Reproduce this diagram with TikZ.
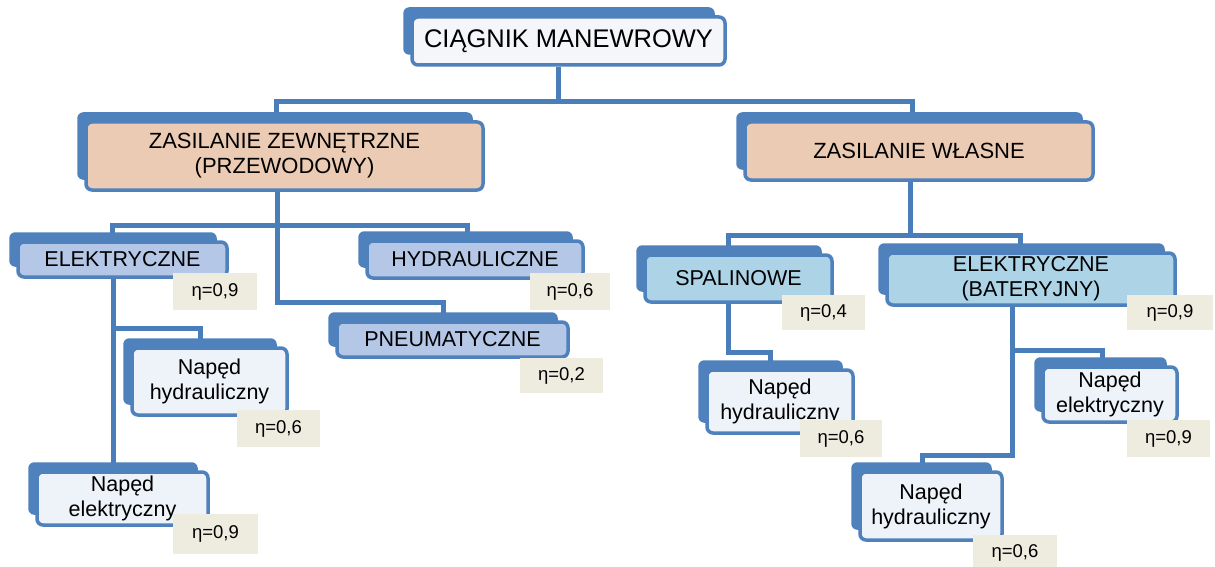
\documentclass[tikz,border=0pt]{standalone}
\usepackage{fontspec}
\setmainfont{Liberation Sans}
\usetikzlibrary{backgrounds}
\definecolor{bblue}{HTML}{4F81BD}
\definecolor{lblue}{HTML}{4A7EBB}
\definecolor{topfill}{HTML}{F4F6FA}
\definecolor{peach}{HTML}{EBCBB3}
\definecolor{lvlblue}{HTML}{B4C7E7}
\definecolor{cyanblue}{HTML}{ACD3E6}
\definecolor{napfill}{HTML}{EEF2F9}
\definecolor{etabg}{HTML}{EEEBDF}
\tikzset{
  box/.style={draw=bblue, line width=3.5pt, rounded corners=6pt, inner sep=0pt,
    align=center, font=\fontsize{21.5}{25}\selectfont},
  eta/.style={fill=etabg, inner sep=0pt, font=\fontsize{18.5}{20}\selectfont},
  conn/.style={draw=lblue, line width=5pt},
  backbox/.style={fill=bblue, rounded corners=6pt},
}
\begin{document}
\begin{tikzpicture}[x=1pt,y=-1pt]
\useasboundingbox (0,0) rectangle (1215,567);
% boxes
\node[box, fill=topfill, minimum width=313pt, minimum height=48pt, font=\fontsize{25.5}{28}\selectfont] (top) at (568.5,41) {CIĄGNIK MANEWROWY};
\node[box, fill=peach, minimum width=397pt, minimum height=68pt, font=\fontsize{22}{25}\selectfont] (zz) at (284.5,156) {ZASILANIE ZEWNĘTRZNE\\(PRZEWODOWY)};
\node[box, fill=peach, minimum width=348pt, minimum height=58pt, font=\fontsize{22}{25}\selectfont] (zw) at (919,151) {ZASILANIE WŁASNE};
\node[box, fill=lvlblue, minimum width=209pt, minimum height=35pt] (el) at (122.5,259.5) {ELEKTRYCZNE};
\node[box, fill=lvlblue, minimum width=216pt, minimum height=37pt] (hy) at (475,259.5) {HYDRAULICZNE};
\node[box, fill=lvlblue, minimum width=231pt, minimum height=35pt] (pn) at (452.5,339.5) {PNEUMATYCZNE};
\node[box, fill=napfill, minimum width=155pt, minimum height=67pt] (nh1) at (209.5,381.5) {Napęd\\hydrauliczny};
\node[box, fill=napfill, minimum width=171pt, minimum height=53pt] (ne1) at (122.5,498.5) {Napęd\\elektryczny};
\node[box, fill=cyanblue, minimum width=187pt, minimum height=47pt] (sp) at (738.5,278.5) {SPALINOWE};
\node[box, fill=cyanblue, minimum width=288pt, minimum height=52pt] (eb) at (1031,279) {ELEKTRYCZNE\\(BATERYJNY)};
\node[box, fill=napfill, minimum width=146pt, minimum height=63pt] (nh2) at (780,401.5) {Napęd\\hydrauliczny};
\node[box, fill=napfill, minimum width=134pt, minimum height=55pt] (ne2) at (1110,394.5) {Napęd\\elektryczny};
\node[box, fill=napfill, minimum width=142pt, minimum height=68pt] (nh3) at (931,506) {Napęd\\hydrauliczny};
% efficiency labels
\node[eta, minimum width=84pt, minimum height=37pt] (eel) at (215,291.5) {η=0,9};
\node[eta, minimum width=80pt, minimum height=37pt] (ehy) at (570,291.5) {η=0,6};
\node[eta, minimum width=83pt, minimum height=35pt] (epn) at (561.5,375.5) {η=0,2};
\node[eta, minimum width=83pt, minimum height=37pt] (enh1) at (278.5,428.5) {η=0,6};
\node[eta, minimum width=85pt, minimum height=40pt] (ene1) at (215.5,534) {η=0,9};
\node[eta, minimum width=83pt, minimum height=35pt] (esp) at (823.5,312.5) {η=0,4};
\node[eta, minimum width=86pt, minimum height=35pt] (eeb) at (1170,312.5) {η=0,9};
\node[eta, minimum width=82pt, minimum height=37pt] (enh2) at (841,438.5) {η=0,6};
\node[eta, minimum width=83pt, minimum height=37pt] (ene2) at (1168.5,438.5) {η=0,9};
\node[eta, minimum width=84pt, minimum height=36pt] (enh3) at (1015,553) {η=0,6};
% junction points
\coordinate (t0) at (558,102);
\coordinate (c1) at (276,102);
\coordinate (c2) at (912,102);
\coordinate (d1) at (277,302);
\coordinate (d2) at (443,302);
\coordinate (d3) at (112,225);
\coordinate (d4) at (467,225);
\coordinate (e1) at (113,328);
\coordinate (e2) at (200,328);
\coordinate (f0) at (910,235);
\coordinate (f1) at (728,235);
\coordinate (f2) at (1020,235);
\coordinate (g1) at (728,352);
\coordinate (g2) at (770,352);
\coordinate (h1) at (1012,455);
\coordinate (h2) at (922,455);
\coordinate (h3) at (1012,350);
\coordinate (h4) at (1102,350);
\begin{scope}[on background layer]
  \fill[white] (0,0) rectangle (1215,567);
  \draw[conn] (top.south -| t0) -- (t0);
  \draw[conn] (zz.north -| c1) -- (c1) -- (c2) -- (zw.north -| c2);
  \draw[conn] (zz.south -| d1) -- (d1) -- (d2) -- (pn.north -| d2);
  \draw[conn] (el.north -| d3) -- (d3) -- (d4) -- (hy.north -| d4);
  \draw[conn] (el.south -| e1) -- (ne1.north -| e1);
  \draw[conn] (e1) -- (e2) -- (nh1.north -| e2);
  \draw[conn] (zw.south -| f0) -- (f0);
  \draw[conn] (sp.north -| f1) -- (f1) -- (f2) -- (eb.north -| f2);
  \draw[conn] (sp.south -| g1) -- (g1) -- (g2) -- (nh2.north -| g2);
  \draw[conn] (eb.south -| h1) -- (h1) -- (h2) -- (nh3.north -| h2);
  \draw[conn] (h3) -- (h4) -- (ne2.north -| h4);
  \foreach \n in {top,zz,zw,el,hy,pn,nh1,ne1,sp,eb,nh2,ne2,nh3}
    \fill[backbox] ([shift={(-7pt,8pt)}]\n.north west) rectangle ([shift={(-12pt,12pt)}]\n.south east);
\end{scope}
\end{tikzpicture}
\end{document}
